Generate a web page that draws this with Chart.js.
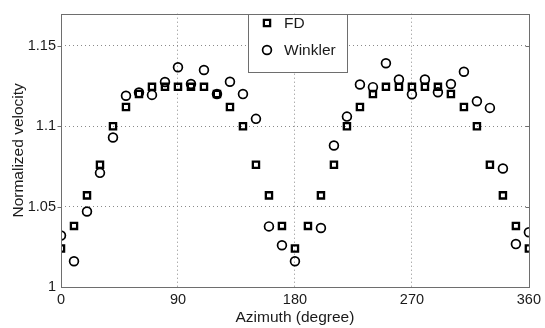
<!DOCTYPE html>
<html><head><meta charset="utf-8">
<script src="https://cdn.jsdelivr.net/npm/chart.js@4.4.1/dist/chart.umd.min.js"></script>
<style>html,body{margin:0;padding:0;background:#fff}</style>
</head><body>
<canvas id="c" width="545" height="328"></canvas>
<script>
const azimuth = [0,10,20,30,40,50,60,70,80,90,100,110,120,130,140,150,160,170,180,
                 190,200,210,220,230,240,250,260,270,280,290,300,310,320,330,340,350,360];
const fdVelocity = [1.024,1.038,1.057,1.076,1.100,1.112,1.120,1.1245,1.1245,1.1245,1.1245,1.1245,1.120,1.112,1.100,1.076,1.057,1.038,1.024,
                    1.038,1.057,1.076,1.100,1.112,1.120,1.1245,1.1245,1.1245,1.1245,1.1245,1.120,1.112,1.100,1.076,1.057,1.038,1.024];
const winklerVelocity = [1.032,1.016,1.047,1.071,1.093,1.119,1.121,1.1195,1.1275,1.1367,1.1263,1.135,1.120,1.1277,1.120,1.1046,1.0377,1.026,1.016,
                         null,1.0367,1.088,1.106,1.126,1.1243,1.1392,1.1291,1.1199,1.1291,1.1211,1.1263,1.1339,1.1155,1.1114,1.0737,1.0267,1.0341];
const xTicks = [0,90,180,270,360];
const yTicks = [1,1.05,1.1,1.15];
const seriesNames = ['FD','Winkler'];
const xTitle = 'Azimuth (degree)';
const yTitle = 'Normalized velocity';

const FONT = "'Liberation Sans', Arial, Helvetica, sans-serif";
const TXT = '#1a1a1a';
const FRAME = '#6e6e6e';
const GRID = '#8a8a8a';

const toPts = (ys) => azimuth.map((x,i) => ({x: x, y: ys[i]}));

const framePlugin = {
  id: 'frame',
  afterDraw(chart) {
    const ctx = chart.ctx, a = chart.chartArea;
    const ys = chart.scales.y;
    const L = Math.round(a.left)+0.5, R = Math.round(a.right)+0.5, T = Math.round(a.top)+0.5, B = Math.round(a.bottom)+0.5;
    ctx.save();
    ctx.strokeStyle = FRAME; ctx.lineWidth = 1;
    ctx.strokeRect(L, T, R-L, B-T);
    const tl = 4;
    ctx.beginPath();
    yTicks.forEach(v => {
      if (v === yTicks[0]) return;
      const py = Math.round(ys.getPixelForValue(v))+0.5;
      ctx.moveTo(L, py); ctx.lineTo(L-tl, py);
      ctx.moveTo(R, py); ctx.lineTo(R-tl, py);
    });
    ctx.stroke();

    // legend box
    const lx = 248.5, ly = T, lw = 99, lh = 58;
    ctx.fillStyle = '#fff';
    ctx.fillRect(lx, ly, lw, lh);
    ctx.strokeStyle = FRAME;
    ctx.lineWidth = 1;
    ctx.strokeRect(lx, ly, lw, lh);
    const rows = [23, 50];
    chart.data.datasets.forEach((ds, i) => {
      const cy = rows[i], cx = 267;
      ctx.strokeStyle = ds.pointBorderColor;
      ctx.fillStyle = 'rgba(0,0,0,0)';
      ctx.lineWidth = ds.pointBorderWidth;
      Chart.helpers.drawPoint(ctx, {pointStyle: ds.pointStyle, rotation: 0, radius: ds.pointRadius, borderWidth: ds.pointBorderWidth}, cx, cy);
      ctx.fillStyle = TXT;
      ctx.font = '15.5px ' + FONT;
      ctx.textBaseline = 'middle';
      ctx.textAlign = 'left';
      ctx.fillText(ds.label, 284, cy + 1);
    });
    ctx.restore();
  }
};

new Chart(document.getElementById('c'), {
  type: 'scatter',
  data: {
    datasets: [
      {label: seriesNames[0], data: toPts(fdVelocity), pointStyle: 'rect', pointRadius: 4.4, pointBorderWidth: 2.3,
       pointBorderColor: '#000', pointBackgroundColor: 'rgba(0,0,0,0)', showLine: false},
      {label: seriesNames[1], data: toPts(winklerVelocity), pointStyle: 'circle', pointRadius: 4.4, pointBorderWidth: 1.7,
       pointBorderColor: '#000', pointBackgroundColor: 'rgba(0,0,0,0)', showLine: false}
    ]
  },
  options: {
    responsive: false,
    animation: false,
    layout: {padding: {left: 0, right: 14, top: 6, bottom: 0}},
    plugins: {legend: {display: false}, tooltip: {enabled: false}},
    scales: {
      x: {
        type: 'linear', min: 0, max: 360,
        afterBuildTicks: s => { s.ticks = xTicks.map(v => ({value: v})); },
        afterFit: s => { s.height = 41; },
        ticks: {color: TXT, font: {family: FONT, size: 14.5}, padding: 4, maxRotation: 0,
                callback: v => String(v)},
        grid: {color: c => (c.tick && (c.tick.value === 0 || c.tick.value === 360)) ? 'rgba(0,0,0,0)' : GRID,
               lineWidth: 1, drawTicks: false},
        border: {display: false, dash: [1, 3]},
        title: {display: true, text: xTitle, color: TXT, font: {family: FONT, size: 15.5}, padding: {top: 0, bottom: 1}}
      },
      y: {
        type: 'linear', min: 1, max: 1.17,
        afterBuildTicks: s => { s.ticks = yTicks.map(v => ({value: v})); },
        afterFit: s => { s.width = 61; },
        ticks: {color: TXT, font: {family: FONT, size: 14.5}, padding: 5,
                callback: v => String(v)},
        grid: {color: c => (c.tick && c.tick.value === 1) ? 'rgba(0,0,0,0)' : GRID,
               lineWidth: 1, drawTicks: false},
        border: {display: false, dash: [1, 3]},
        title: {display: true, text: yTitle, color: TXT, font: {family: FONT, size: 15.5}, padding: {top: 9, bottom: 0}}
      }
    }
  },
  plugins: [framePlugin]
});
</script>
</body></html>
